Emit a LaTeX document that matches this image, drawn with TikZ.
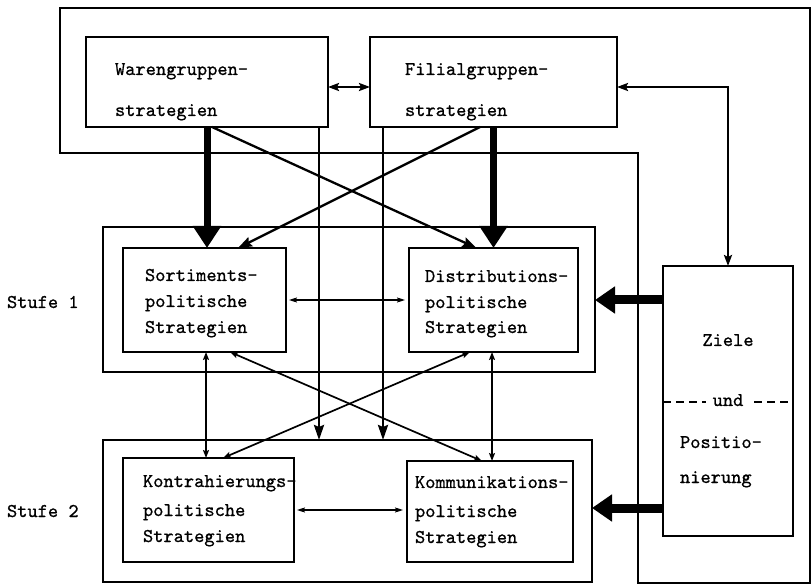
\documentclass[tikz,border=0pt]{standalone}
\usepackage{fontspec}
\setmainfont{lmmono10-regular.otf}[FakeBold=0.8]
\usetikzlibrary{arrows.meta}
\begin{document}
\begin{tikzpicture}[x=1pt,y=-1pt,
  every node/.style={inner sep=0pt,outer sep=0pt},
  box/.style={draw,line width=1.8pt},
  framebox/.style={draw,line width=1.6pt},
  txt/.style={anchor=base west,font=\fontsize{19.5}{22}\selectfont},
  ctxt/.style={anchor=base,font=\fontsize{19.5}{22}\selectfont},
  bigarrow/.style={line width=7pt,-{Triangle[length=22pt,width=27pt]}},
  zarrow/.style={line width=9pt,-{Triangle[length=20pt,width=26pt]}},
  medarrow/.style={line width=2.6pt,-{Stealth[length=15pt,width=10pt,inset=2pt]}},
  diagarrow/.style={line width=2.3pt,-{Stealth[length=14pt,width=10pt,inset=2pt]}},
  dblmed/.style={line width=2.4pt,{Stealth[length=11pt,width=8pt,inset=2pt]}-{Stealth[length=11pt,width=8pt,inset=2pt]}},
  dblthin/.style={line width=1.7pt,{Stealth[length=8pt,width=6pt,inset=1.5pt]}-{Stealth[length=8pt,width=6pt,inset=1.5pt]}},
  dblhair/.style={line width=1.3pt,{Stealth[length=8pt,width=5pt,inset=1.5pt]}-{Stealth[length=8pt,width=5pt,inset=1.5pt]},shorten <=3pt,shorten >=4pt}]
\useasboundingbox (0,0) rectangle (812,585);

% outer frame
\draw[framebox] (60,8) -- (810,8) -- (810,583) -- (638,583) -- (638,153) -- (60,153) -- cycle;

% boxes
\node[box,minimum width=242pt,minimum height=90pt] (ware) at (207,82) {};
\node[box,minimum width=247pt,minimum height=90pt] (filial) at (493.5,82) {};
\node[framebox,minimum width=492pt,minimum height=145pt] (st1) at (349,299.5) {};
\node[framebox,minimum width=489pt,minimum height=142pt] (st2) at (347.5,511) {};
\node[box,minimum width=163pt,minimum height=104pt] (sort) at (204.5,300) {};
\node[box,minimum width=169pt,minimum height=104pt] (dist) at (493.5,300) {};
\node[box,minimum width=171pt,minimum height=104pt] (kontr) at (208.5,510) {};
\node[box,minimum width=166pt,minimum height=101pt] (komm) at (490,511.5) {};
\node[box,minimum width=130pt,minimum height=270pt] (ziele) at (728,401) {};

% texts
\node[txt] (t1) at (115,75) {Warengruppen-};
\node[txt] (t2) at (115,116) {strategien};
\node[txt] (t3) at (405,75) {Filialgruppen-};
\node[txt] (t4) at (405,116) {strategien};
\node[txt] (t5) at (145,281) {Sortiments-};
\node[txt] (t6) at (145,307) {politische};
\node[txt] (t7) at (145,333) {Strategien};
\node[txt] (t8) at (425,282) {Distributions-};
\node[txt] (t9) at (425,308) {politische};
\node[txt] (t10) at (425,333) {Strategien};
\node[txt] (t11) at (143,487) {Kontrahierungs-};
\node[txt] (t12) at (143,516) {politische};
\node[txt] (t13) at (143,542) {Strategien};
\node[txt] (t14) at (415,488) {Kommunikations-};
\node[txt] (t15) at (415,517) {politische};
\node[txt] (t16) at (415,543) {Strategien};
\node[ctxt] (t17) at (728,346) {Ziele};
\draw[line width=1.5pt,dash pattern=on 8pt off 5pt] ([yshift=-1pt]ziele.west) -- ([yshift=-1pt]ziele.east);
\node[ctxt,fill=white,inner xsep=7pt] (t18) at (728,406) {und};
\node[txt] (t19) at (680,448) {Positio-};
\node[txt] (t20) at (680,483) {nierung};
\node[txt] (s1) at (7,308) {Stufe 1};
\node[txt] (s2) at (7,517) {Stufe 2};

% connectors
\draw[dblmed] ([yshift=-5pt]ware.east) -- ([yshift=-5pt]filial.west);
\draw[dblmed] ([yshift=-5pt]filial.east) -| (ziele.north);
\draw[bigarrow] (ware.south) -- (ware.south |- sort.north);
\draw[bigarrow] (filial.south) -- (dist.north);
\draw[diagarrow] ([xshift=5pt]ware.south) -- ([xshift=-17pt]dist.north);
\draw[diagarrow] ([xshift=-13.5pt]filial.south) -- ([xshift=33.5pt]sort.north);
\coordinate (w1) at ([xshift=112pt]ware.south);
\coordinate (f1) at ([xshift=-110.5pt]filial.south);
\draw[medarrow] (w1) -- (w1 |- st2.north);
\draw[medarrow] (f1) -- (f1 |- st2.north);

\draw[dblhair] (sort.east) -- (sort.east -| dist.west);
\draw[dblhair] (kontr.east) -- (kontr.east -| komm.west);
\coordinate (v1) at ([xshift=1.5pt]sort.south);
\coordinate (v2) at ([xshift=-1.5pt]dist.south);
\draw[dblthin] (v1) -- (v1 |- kontr.north);
\draw[dblthin] (v2) -- (v2 |- komm.north);
\draw[dblthin] ([xshift=25.5pt]sort.south) -- ([xshift=-8pt]komm.north);
\draw[dblthin] ([xshift=-23.5pt]dist.south) -- ([xshift=14.5pt]kontr.north);

\coordinate (z1) at ([yshift=101pt]ziele.west);
\coordinate (z2) at ([yshift=-107pt]ziele.west);
\draw[zarrow] (z1) -- (z1 -| st1.east);
\draw[zarrow] (z2) -- (z2 -| st2.east);
\end{tikzpicture}
\end{document}
